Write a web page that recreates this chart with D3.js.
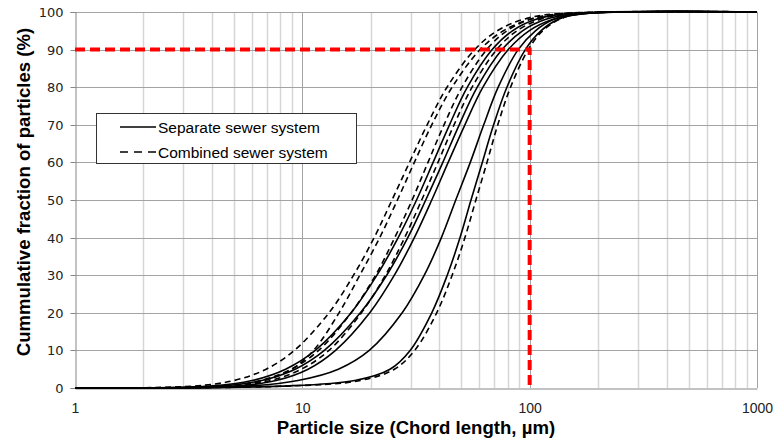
<!DOCTYPE html>
<html><head><meta charset="utf-8">
<script src="https://cdn.jsdelivr.net/npm/d3@7"></script>
<style>body{margin:0;background:#fff}svg{display:block}</style>
</head><body><svg id="c" width="775" height="443"></svg>
<script>
// cumulative fraction levels (%) at which particle sizes (µm) were read
const levels = [0, 0.5, 2, 5, 10, 20, 30, 40, 50, 60, 70, 80, 90, 95, 98, 99.5, 100];

// Separate sewer system curves: particle size (µm) at each level
const separate1 = [1, 3.91, 6.02, 8.44, 11.4, 16.4, 21.3, 26.4, 31.8, 37.6, 44.4, 53.2, 68.4, 84.0, 106, 143, 1000];
const separate2 = [1, 4.30, 6.63, 9.30, 12.5, 18.0, 23.5, 29.1, 34.9, 41.5, 49.0, 58.8, 75.6, 93.0, 117, 158, 1000];
const separate3 = [1, 5.09, 7.67, 10.6, 14.0, 19.8, 25.4, 31.1, 37.1, 43.8, 51.9, 62.3, 80.5, 99.4, 126, 171, 1000];
const separate4 = [1, 5.7, 9.56, 14.4, 19.7, 27.5, 34.4, 40.9, 47.3, 54.8, 62.8, 72.7, 89.0, 106, 127, 162, 1000];
const separate5 = [1, 8.0, 17.0, 24.3, 29.8, 37.1, 43.4, 49.4, 55.2, 61.9, 69.4, 79.4, 95.7, 112, 133, 166, 1000];

// Combined sewer system curves
const combined1 = [1, 3.32, 5.01, 6.93, 9.23, 13.1, 16.8, 20.7, 24.8, 29.6, 35.4, 43.3, 57.3, 72.0, 93.3, 130, 1000];
const combined2 = [1, 4.5, 6.8, 9.0, 11.2, 14.5, 17.9, 21.9, 26.2, 31.1, 37.1, 45.6, 60.5, 76.6, 99.8, 140, 1000];
const combined3 = [1, 4.41, 6.55, 8.94, 11.8, 16.4, 21.0, 25.5, 30.4, 35.7, 42.0, 50.4, 64.7, 79.4, 100, 135, 1000];
const combined4 = [1, 4.88, 7.24, 9.89, 13.1, 18.2, 23.2, 28.2, 33.5, 39.5, 46.5, 55.8, 71.6, 87.9, 111, 149, 1000];
const combined5 = [1, 8.5, 18.0, 25.4, 31.2, 39.0, 45.6, 51.9, 58.0, 64.9, 72.4, 82.4, 98.6, 114, 135, 167, 1000];

const separateSeries = [separate1, separate2, separate3, separate4, separate5];
const combinedSeries = [combined1, combined2, combined3, combined4, combined5];

// reference (red) threshold: 90 % at 100 µm
const refPercent = 90;
const refSize = 100;

const xTicks = [1, 10, 100, 1000];
const yTicks = [0, 10, 20, 30, 40, 50, 60, 70, 80, 90, 100];
const legendLabels = ["Separate sewer system", "Combined sewer system"];

const svg = d3.select('#c');
const L = 75, R = 757, T = 12, B = 388;
const x = d3.scaleLog().domain([1, 1000]).range([L, R]);
const y = d3.scaleLinear().domain([0, 100]).range([B, T]);
const px = v => Math.round(v) + 0.5;

// vertical minor grid
const minor = x.ticks().filter(v => !xTicks.includes(v));
svg.append('g').selectAll('line').data(minor).join('line')
  .attr('x1', d => px(x(d))).attr('x2', d => px(x(d)))
  .attr('y1', T).attr('y2', B)
  .attr('stroke', '#d6d6d6').attr('stroke-width', 1.5);
// vertical major grid
svg.append('g').selectAll('line').data(xTicks.slice(1)).join('line')
  .attr('x1', d => px(x(d))).attr('x2', d => px(x(d)))
  .attr('y1', T).attr('y2', B)
  .attr('stroke', '#a3a3a3').attr('stroke-width', 1);
// horizontal grid
svg.append('g').selectAll('line').data(yTicks.slice(1)).join('line')
  .attr('x1', L).attr('x2', R)
  .attr('y1', d => px(y(d))).attr('y2', d => px(y(d)))
  .attr('stroke', '#a3a3a3').attr('stroke-width', 1);

// y axis
const ya = svg.append('g').attr('transform', `translate(${px(L)},0)`)
  .call(d3.axisLeft(y).tickValues(yTicks).tickSize(5).tickPadding(7));
ya.selectAll('.tick').attr('transform', d => `translate(0,${px(y(d))})`);
ya.select('.domain').attr('stroke', '#868686');
ya.selectAll('.tick line').attr('stroke', '#868686');
ya.selectAll('text').attr('font-family', 'DejaVu Sans, Verdana, sans-serif')
  .attr('font-size', 13).attr('fill', '#222');

// x axis
const xa = svg.append('g').attr('transform', `translate(0,${px(B)})`)
  .call(d3.axisBottom(x).tickValues(xTicks).tickSize(0).tickPadding(15).tickFormat(d3.format('d')));
xa.select('.domain').attr('stroke', '#868686');
xa.selectAll('text').attr('font-family', 'Liberation Sans, Arial, sans-serif')
  .attr('font-size', 14).attr('fill', '#222');

// curves
const line = d3.line().x(d => x(d[0])).y(d => y(d[1])).curve(d3.curveCatmullRom.alpha(0.5));
const g = svg.append('g').attr('fill', 'none').attr('stroke', '#000').attr('stroke-width', 1.6);
g.selectAll('path.sep').data(separateSeries).join('path').attr('class', 'sep')
  .attr('d', s => line(d3.zip(s, levels)));
g.selectAll('path.comb').data(combinedSeries).join('path').attr('class', 'comb')
  .attr('d', s => line(d3.zip(s, levels)))
  .attr('stroke-dasharray', '6,4');

// red reference lines
svg.append('path')
  .attr('d', `M${x(1)},${y(refPercent)}H${x(refSize)}V${y(0)}`)
  .attr('fill', 'none').attr('stroke', '#ff0000').attr('stroke-width', 4)
  .attr('stroke-dasharray', '10,5');

// legend
const lg = svg.append('g');
lg.append('rect').attr('x', 96.5).attr('y', 113.5).attr('width', 260).attr('height', 50)
  .attr('fill', '#fff').attr('stroke', '#333').attr('stroke-width', 1);
legendLabels.forEach((t, i) => {
  const yy = 127 + i * 25;
  lg.append('line').attr('x1', 120).attr('x2', 156).attr('y1', yy).attr('y2', yy)
    .attr('stroke', '#000').attr('stroke-width', 1.6)
    .attr('stroke-dasharray', i ? '8,6' : null);
  lg.append('text').attr('x', 158).attr('y', yy + 5.5).text(t)
    .attr('font-family', 'Liberation Sans, Arial, sans-serif').attr('font-size', 15.5).attr('fill', '#000');
});

// axis titles
svg.append('text').attr('transform', 'translate(30,192) rotate(-90)')
  .attr('text-anchor', 'middle').attr('font-family', 'Liberation Sans, Arial, sans-serif')
  .attr('font-weight', 'bold').attr('font-size', 18.6).attr('fill', '#000')
  .text('Cummulative fraction of particles (%)');
svg.append('text').attr('x', 416).attr('y', 434)
  .attr('text-anchor', 'middle').attr('font-family', 'Liberation Sans, Arial, sans-serif')
  .attr('font-weight', 'bold').attr('font-size', 18.6).attr('fill', '#000')
  .text('Particle size (Chord length, µm)');
</script></body></html>
